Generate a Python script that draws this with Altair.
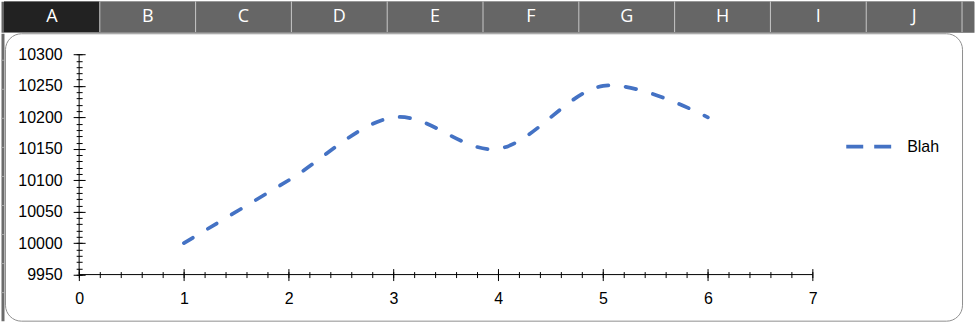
import altair as alt
import pandas as pd

# ---------------- data ----------------
x_vals = [1, 2, 3, 4, 5, 6]
y_vals = [10000, 10100, 10200, 10150, 10250, 10200]
series_name = "Blah"

x_major = [0, 1, 2, 3, 4, 5, 6, 7]
y_major = [9950, 10000, 10050, 10100, 10150, 10200, 10250, 10300]
x_minor_step = 0.2
y_minor_step = 10

columns = ["A", "B", "C", "D", "E", "F", "G", "H", "I", "J", "K"]
selected_column = "A"
row_numbers = [1, 2, 3, 4, 5, 6, 7, 8, 9, 10]

x_minor = [round(x_major[0] + k * x_minor_step, 1) for k in range(int((x_major[-1] - x_major[0]) / x_minor_step) + 1)]
y_minor = [y_major[0] + k * y_minor_step for k in range(int((y_major[-1] - y_major[0]) / y_minor_step) + 1)]

FONT = "Liberation Sans"
LINE_COLOR = "#4472C4"

# ---------------- main chart ----------------
W, H = 959, 288
xs = alt.Scale(domain=[-0.7076, 8.4257], nice=False, zero=False)
ys = alt.Scale(domain=[9876.7, 10333.8], nice=False, zero=False)

major_x_axis = alt.Axis(orient="bottom", values=x_major, offset=-52.2, tickSize=12,
                        tickColor="black", tickWidth=1, domain=False, grid=False,
                        labelFont=FONT, labelFontSize=16, labelColor="#000000",
                        labelPadding=10, title=None, labelFlush=False,
                        labelOverlap=False, format="d")
major_y_axis = alt.Axis(orient="left", values=y_major, offset=-80.3, tickSize=12,
                        tickColor="black", tickWidth=1, domain=False, grid=False,
                        labelFont=FONT, labelFontSize=16, labelColor="#000000",
                        labelPadding=11, title=None, labelFlush=False,
                        labelOverlap=False, format="d")
minor_x_axis = alt.Axis(orient="bottom", values=x_minor, offset=-49.2, tickSize=6,
                        tickColor="black", tickWidth=1, domain=False, grid=False,
                        labels=False, title=None)
minor_y_axis = alt.Axis(orient="left", values=y_minor, offset=-77.3, tickSize=6,
                        tickColor="black", tickWidth=1, domain=False, grid=False,
                        labels=False, title=None)

line_df = pd.DataFrame({"x": x_vals, "y": y_vals, "series": [series_name] * len(x_vals)})
yaxis_df = pd.DataFrame({"x": [x_major[0]], "y": [y_major[0]], "y2": [y_major[-1]]})
xaxis_df = pd.DataFrame({"x": [x_major[0]], "x2": [x_major[-1]], "y": [y_major[0]]})

yrule = alt.Chart(yaxis_df).mark_rule(color="black", strokeWidth=1).encode(
    x=alt.X("x:Q", scale=xs, axis=minor_x_axis),
    y=alt.Y("y:Q", scale=ys, axis=minor_y_axis),
    y2="y2:Q",
)
xrule = alt.Chart(xaxis_df).mark_rule(color="black", strokeWidth=1).encode(
    x=alt.X("x:Q", scale=xs, axis=None),
    x2="x2:Q",
    y=alt.Y("y:Q", scale=ys, axis=None),
)
line = alt.Chart(line_df).mark_line(
    interpolate="cardinal", strokeWidth=3.75, strokeDash=[10.5, 17.5], strokeCap="round"
).encode(
    x=alt.X("x:Q", scale=xs, axis=major_x_axis),
    y=alt.Y("y:Q", scale=ys, axis=major_y_axis),
    color=alt.Color("series:N",
                    scale=alt.Scale(domain=[series_name], range=[LINE_COLOR]),
                    legend=alt.Legend(orient="none", legendX=845, legendY=121,
                                      title=None, symbolType="stroke", symbolSize=2025,
                                      symbolStrokeWidth=3.75, symbolDash=[17, 11],
                                      labelFont=FONT, labelFontSize=16,
                                      labelColor="#000000", labelOffset=14, padding=0)),
)

main = alt.layer(yrule, xrule, line).resolve_axis(x="independent", y="independent").properties(
    width=W, height=H,
    view=alt.ViewBackground(fill="white", stroke="#8f8f8f", strokeWidth=1, cornerRadius=16),
)

# ---------------- spreadsheet header ----------------
hdr_df = pd.DataFrame({"col": columns, "i": list(range(len(columns)))})
hx = alt.Scale(domain=[-3 / 96, 972 / 96], nice=False, zero=False)
hbase = alt.Chart(hdr_df).transform_calculate(i2="datum.i + 1", ic="datum.i + 0.5")
hrect = hbase.mark_rect(clip=True).encode(
    x=alt.X("i:Q", scale=hx, axis=None), x2="i2:Q",
    fill=alt.condition(alt.datum.col == selected_column, alt.value("#222222"), alt.value("#666666")),
)
hsep = hbase.transform_filter("datum.i > 0").mark_rule(color="#c8c8c8", strokeWidth=1, clip=True).encode(
    x=alt.X("i:Q", scale=hx, axis=None),
)
htext = hbase.transform_filter("datum.ic < 10").mark_text(
    color="white", fontSize=18, font="Open Sans", clip=True
).encode(
    x=alt.X("ic:Q", scale=hx, axis=None), text="col:N",
)
header = alt.layer(hrect, hsep, htext).properties(
    width=975, height=31, view=alt.ViewBackground(fill="#666666", stroke="transparent"),
)

# ---------------- row header sliver ----------------
rows_df = pd.DataFrame({"r": row_numbers})
sliver = alt.Chart(rows_df).mark_rule(color="#a8a8a8", strokeWidth=1, clip=True).encode(
    y=alt.Y("r:Q", scale=alt.Scale(domain=[0.034, 9.93], nice=False, zero=False), axis=None),
).properties(width=3, height=H, view=alt.ViewBackground(fill="#6b6b6b", stroke="transparent"))

chart = alt.vconcat(
    header,
    alt.hconcat(sliver, main, spacing=1, bounds="flush"),
    spacing=1,
    bounds="flush",
).properties(padding=0, background="white")

chart.save("out.html", embed_options={"renderer": "svg", "actions": False})
